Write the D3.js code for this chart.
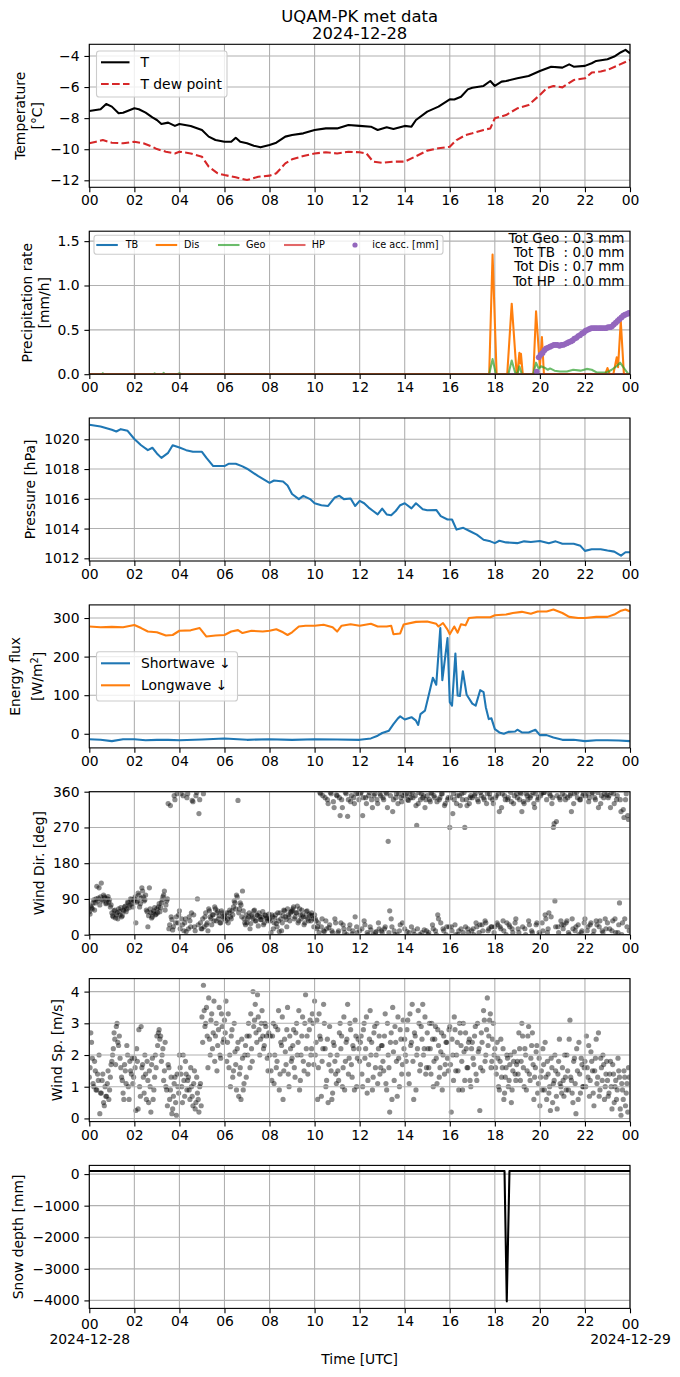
<!DOCTYPE html>
<html>
<head>
<meta charset="utf-8">
<script src="https://cdn.jsdelivr.net/npm/d3@7"></script>
<style>
  body { margin: 0; background: #fff; }
  svg { font-family: "DejaVu Sans", sans-serif; }
  .grid line { stroke: #b0b0b0; stroke-width: 1.1; }
</style>
</head>
<body>
<svg id="chart" width="680" height="1377"></svg>
<script>
// temperature [°C]
const tempHour = [0,0.5,0.75,1.0,1.3,1.5,2.0,2.2,2.5,2.8, 3.0,3.2,3.5,3.8,4.0,4.5,5.0,5.3,5.6,6.0,
  6.3,6.5,6.7,7.0,7.3,7.6,8.0,8.3,8.7,9.0, 9.5,10.0,10.5,11.0,11.5,12.0,12.5,12.8,13.2,13.5,
  14.0,14.3,14.5,15.0,15.5,16.0,16.2,16.5,16.8,17.0, 17.5,17.8,18.0,18.3,18.5,19.0,19.5,20.0,20.5,21.0,
  21.3,21.5,22.0,22.3,22.5,23.0,23.3,23.6,23.8,24.0];
const tempVal = [-7.54,-7.43,-7.09,-7.26,-7.69,-7.65,-7.37,-7.43,-7.65,-7.95, -8.12,-8.38,-8.29,-8.5,-8.38,-8.5,-8.76,-9.19,-9.41,-9.52,
  -9.52,-9.26,-9.52,-9.62,-9.77,-9.88,-9.73,-9.58,-9.19,-9.09, -8.98,-8.76,-8.66,-8.66,-8.44,-8.5,-8.55,-8.76,-8.59,-8.7,
  -8.5,-8.55,-8.12,-7.58,-7.26,-6.79,-6.8,-6.62,-6.15,-6.04, -5.93,-5.61,-5.93,-5.65,-5.61,-5.44,-5.29,-4.97,-4.69,-4.75,
  -4.54,-4.69,-4.64,-4.47,-4.32,-4.21,-4.04,-3.76,-3.61,-3.83];
const dewHour = [0,0.3,0.6,1.0,1.5,2.0,2.4,2.8,3.0,3.4, 3.8,4.0,4.5,5.0,5.3,5.7,6.0,6.5,7.0,7.5,
  8.0,8.3,8.7,9.0,9.5,10.0,10.5,11.0,11.5,12.0, 12.3,12.6,13.0,13.5,14.0,14.3,14.7,15.0,15.5,16.0,
  16.3,16.7,17.0,17.5,17.8,18.0,18.5,19.0,19.5,20.0, 20.3,20.6,21.0,21.5,22.0,22.3,22.7,23.0,23.5,24.0];
const dewVal = [-9.62,-9.52,-9.41,-9.58,-9.62,-9.52,-9.62,-9.84,-9.99,-10.16, -10.27,-10.16,-10.27,-10.48,-11.12,-11.55,-11.66,-11.81,-11.98,-11.77,
  -11.70,-11.55,-10.91,-10.65,-10.44,-10.27,-10.2,-10.27,-10.16,-10.2, -10.27,-10.8,-10.87,-10.8,-10.8,-10.59,-10.31,-10.09,-9.94,-9.84,
  -9.41,-9.09,-8.98,-8.76,-8.66,-8.01,-7.80,-7.37,-7.15,-6.51, -6.08,-5.93,-6.02,-5.55,-5.44,-5.07,-5.0,-4.9,-4.58,-4.26];

// precipitation rate [mm/h]
const tbHour = [0, 24];
const tbVal = [0, 0];
const disHour = [0,17.75,17.9,18.08,18.55,18.75,18.97,19.0,19.09,19.12, 19.16,19.24,19.71,19.83,20.0,20.09,20.18,22.9,23.0,23.1,
  23.26,23.41,23.47,23.59,23.73,24];
const disVal = [0,0,1.35,0,0,0.795,0,0,0.24,0.12, 0.23,0,0,0.71,0.08,0.42,0,0,0.07,0,
  0,0.19,0.08,0.6,0,0];
const geoHour = [0,0.55,0.6,0.65,2.85,2.9,2.95,3.25,3.3,3.35, 3.9,4.0,4.1,17.75,17.9,18.05,18.6,18.75,18.9,19.0,
  19.09,19.2,19.7,19.83,19.95,20.05,20.23,20.35,20.45,20.65, 20.89,21.2,21.48,21.8,22.08,22.3,22.52,22.97,23.19,23.4,
  23.56,23.73,23.93,24];
const geoVal = [0,0,0.012,0,0,0.01,0,0,0.015,0, 0,0.01,0,0,0.17,0,0,0.155,0.02,0,
  0.09,0,0,0.13,0.06,0.09,0.07,0.05,0.065,0.04, 0.03,0.03,0.05,0.04,0.06,0.05,0.02,0.02,0.05,0.09,
  0.13,0.07,0,0];
const hpHour = [0, 24];
const hpVal = [0, 0];
const iceHour = [19.86, 19.95,20.03,20.12,20.2,20.28,20.37,20.45,20.53,20.62,20.7,
  20.78,20.87,20.95,21.03,21.12,21.2,21.28,21.37,21.45,21.53, 21.62,21.7,21.78,21.87,21.95,22.03,22.12,22.2,22.28,22.37,
  22.45,22.53,22.62,22.7,22.78,22.87,22.95,23.03,23.12,23.2, 23.28,23.37,23.45,23.53,23.62,23.7,23.78,23.87,23.95];
const iceVal = [0.03, 0.19,0.22,0.24,0.27,0.29,0.30,0.31,0.32,0.33,0.33,
  0.33,0.32,0.33,0.33,0.34,0.35,0.36,0.37,0.38,0.40, 0.41,0.43,0.44,0.46,0.47,0.49,0.50,0.51,0.52,0.52,
  0.52,0.52,0.52,0.52,0.52,0.52,0.52,0.53,0.53,0.54, 0.56,0.58,0.60,0.62,0.64,0.66,0.67,0.68,0.69];
const precipTotals = ["Tot Geo : 0.3 mm", "Tot TB  : 0.0 mm", "Tot Dis : 0.7 mm", "Tot HP  : 0.0 mm"];

// pressure [hPa]
const presHour = [0,0.5,1.0,1.2,1.4,1.7,2.0,2.3,2.6,2.8, 3.0,3.2,3.5,3.7,4.0,4.3,4.6,5.0,5.2,5.5,
  6.0,6.2,6.5,6.8,7.0,7.5,8.0,8.2,8.6,8.8, 9.0,9.3,9.5,9.8,10.0,10.3,10.6,10.9,11.1,11.3,
  11.6,11.8,12.0,12.2,12.4,12.6,12.8,13.0,13.2,13.4, 13.6,13.8,14.0,14.3,14.5,14.8,15.0,15.4,15.6,15.9,
  16.1,16.3,16.6,16.9,17.2,17.5,17.8,18.0,18.2,18.5, 19.0,19.3,19.6,20.0,20.4,20.7,21.0,21.5,21.8,22.0,
  22.3,22.7,23.0,23.3,23.6,23.8,24.0];
const presVal = [1020.98,1020.86,1020.64,1020.52,1020.68,1020.57,1020.02,1019.6,1019.27,1019.43,
  1019.05,1018.75,1019.09,1019.6,1019.45,1019.27,1019.16,1019.16,1018.75,1018.2,
  1018.2,1018.36,1018.36,1018.18,1018.02,1017.52,1017.07,1017.23,1017.16,1016.89,
  1016.32,1015.98,1016.2,1015.98,1015.70,1015.57,1015.52,1016.09,1016.2,1015.98,
  1016.02,1015.52,1015.86,1015.7,1015.41,1015.18,1014.95,1015.34,1014.95,1014.89,
  1015.18,1015.57,1015.70,1015.36,1015.70,1015.3,1015.23,1015.25,1014.84,1014.61,
  1014.61,1013.93,1014.05,1013.82,1013.59,1013.25,1013.14,1013.02,1013.18,1013.07,
  1013.02,1013.14,1013.1,1013.16,1013.02,1013.14,1012.98,1012.98,1012.84,1012.5,
  1012.61,1012.61,1012.52,1012.45,1012.18,1012.41,1012.41];

// radiation [W/m2]
const swHour = [0,0.5,1.0,1.5,2.0,2.5,3.0,3.5,4.0,5.0, 6.0,7.0,8.0,9.0,10.0,11.0,12.0,12.5,12.8,13.0,
  13.3,13.5,13.7,13.8,14.0,14.3,14.5,14.6,14.7,14.9, 15.1,15.25,15.4,15.58,15.67,15.9,16.0,16.1,16.25,16.35,
  16.45,16.58,16.75,17.0,17.15,17.35,17.5,17.6,17.73,17.85, 18.0,18.2,18.4,18.6,18.9,19.0,19.2,19.5,19.8,20.0,
  20.3,20.6,21.0,21.5,22.0,22.5,23.0,23.5,24.0];
const swVal = [-14,-15.7,-19,-14,-14,-16.6,-15.7,-15.7,-16.6,-14.8, -12.2,-15.7,-14,-15.7,-14,-14.8,-15.7,-12,-5,2,
  8,25,40,45,37,43,34,23,51,60, 108,145,127,274,139,248,82,73,208,99,
  98,162,101,78,73,113,108,69,38,40, 12,3.5,0,5,6,10.5,3.5,3.5,10.5,-3.5,
  -3.5,-9.6,-15.7,-15.7,-19,-16.6,-16.6,-17.5,-19];
const lwHour = [0,0.5,1.0,1.5,2.0,2.3,2.6,3.0,3.4,3.7, 4.0,4.5,4.9,5.2,5.6,6.0,6.3,6.6,6.8,7.2,
  7.7,8.0,8.3,8.6,8.8,9.0,9.3,9.6,10.0,10.4, 10.8,11.0,11.2,11.6,12.0,12.5,12.8,13.2,13.4,13.5,
  13.8,13.95,14.5,15.0,15.4,15.5,15.7,15.9,16.0,16.2, 16.35,16.5,16.7,16.85,17.2,17.8,18.0,18.5,18.8,19.2,
  19.6,19.9,20.3,20.6,21.0,21.3,21.7,22.0,22.5,23.0, 23.3,23.6,23.8,24.0];
const lwVal = [278,276,277,276,282,274,265,263,254.5,256, 267,268,274,252,254.5,256,265,268.6,261,267,
  265,267,271,263,256,263,278,280,280,282.6, 276,265,280,284,280,285,278,278,280,258,
  260,283,290,291,285,278,287,270,258,278, 262,284,281,300,302,302,307,309,313,316,
  311,317,317,322,313,303,300,300,303,303, 309,319,322,317];

// wind: two interleaved samplings, each one value every 4 minutes (A on the even minute, B two minutes later)
const windDirA = [
  58,72,65,88,80,122,92,75,130,85,95,78,90,82,70,
  55,45,62,50,40,58,68,48,60,72,65,80,75,88,70,
  90,30,85,100,78,118,95,88,62,20,118,55,45,60,50,
  65,70,58,80,95,110,75,90,15,325,38,20,340,45,30,
  60,355,25,10,40,345,15,35,55,335,20,350,90,305,30,
  15,355,45,25,10,60,40,50,35,65,55,40,30,60,45,
  50,35,40,55,45,60,70,80,100,338,65,75,110,40,25,
  30,45,15,50,40,62,35,48,55,38,45,25,50,42,35,
  40,5,45,30,50,20,35,55,10,48,60,38,65,45,55,
  60,70,45,55,30,65,40,50,25,45,60,35,48,55,40,
  50,35,20,5,355,40,10,345,15,330,25,355,5,320,30,
  350,10,300,340,25,5,355,298,15,335,2,345,45,20,355,
  10,358,300,35,345,5,350,20,340,0,355,8,330,15,350,
  5,340,20,355,235,60,40,310,10,345,0,355,25,335,350,
  15,355,340,5,345,358,10,350,275,330,0,355,345,12,340,
  350,5,335,355,15,345,0,50,340,30,355,10,330,20,345,
  270,20,305,340,0,350,10,325,355,5,270,340,15,330,350,
  345,0,355,20,335,25,350,10,340,30,355,15,345,20,330,
  20,350,25,310,15,355,10,340,30,345,20,335,5,350,40,
  345,5,358,310,335,15,355,340,25,350,5,330,355,30,345,
  0,355,10,358,40,5,55,350,330,270,85,285,20,345,35,
  355,25,340,35,5,350,310,15,355,20,345,0,340,10,355,
  40,355,20,345,30,358,10,340,25,320,35,350,5,355,15,
  30,350,320,10,355,40,340,5,80,310,30,295,340,20,290];
const windDirB = [
  52,68,80,62,90,85,118,95,88,100,92,80,96,88,75,
  48,60,42,55,65,50,45,62,70,58,82,68,90,78,85,
  95,82,105,70,92,110,85,100,58,48,65,42,55,68,52,
  55,78,68,88,100,62,85,330,25,45,12,350,30,355,50,
  15,40,350,30,8,355,45,20,338,50,10,358,25,340,15,
  40,20,55,30,65,45,25,50,70,35,60,48,30,55,40,
  45,55,30,62,40,50,85,65,95,55,80,45,60,30,50,
  40,55,28,45,60,35,50,22,45,38,58,30,48,40,52,
  35,50,15,42,28,55,8,40,30,62,45,20,50,35,58,
  65,40,55,72,35,50,62,45,30,58,40,52,35,48,20,
  40,15,30,358,20,350,8,35,340,18,358,10,335,40,352,
  5,345,30,320,15,358,0,340,25,350,10,330,355,5,340,
  355,15,345,25,330,0,358,12,320,350,5,340,30,355,10,
  345,15,358,320,5,350,20,340,0,355,330,10,345,30,358,
  350,8,338,355,20,345,0,325,15,358,340,5,350,320,10,
  0,340,358,25,350,10,335,40,345,355,15,325,0,340,20,
  345,10,355,25,330,0,350,15,340,358,20,325,5,345,10,
  15,350,30,340,5,358,25,345,35,330,10,355,20,340,5,
  345,30,355,20,320,35,350,0,340,25,358,15,330,30,355,
  15,340,355,20,330,0,350,35,345,10,358,320,25,340,5,
  350,30,358,50,340,15,355,45,345,280,20,350,5,340,25,
  15,350,30,345,0,355,40,330,10,358,25,340,5,350,30,
  350,10,335,25,355,0,345,35,358,20,330,10,345,40,352,
  345,15,358,35,330,5,350,25,340,0,315,40,355,300,10];
const windSpdA = [
  1.3,2.7,1.9,1.0,1.5,0.9,1.2,0.15,0.8,1.4,0.4,0.7,1.1,0.6,1.3,
  1.8,2.2,2.5,2.9,2.4,2.6,1.6,1.2,0.6,1.5,2.3,1.0,1.8,1.4,1.1,
  1.9,0.25,1.8,2.8,0.7,1.6,1.3,2.0,0.6,1.2,1.5,0.2,1.9,0.9,2.0,
  2.6,2.7,2.5,1.8,2.2,1.5,1.0,0.4,1.6,0.9,0.15,0.7,1.3,0.1,1.0,
  2.0,1.4,0.5,1.2,1.8,0.9,1.3,0.6,1.0,0.4,1.5,0.5,0.8,0.2,1.1,
  3.2,4.2,2.9,3.5,1.6,2.5,3.1,2.2,3.7,2.6,1.5,2.8,2.0,3.3,2.4,
  3.1,3.7,2.4,1.6,1.0,2.8,1.5,2.1,0.9,2.4,1.4,0.6,1.9,1.1,2.3,
  2.6,3.0,1.6,2.2,4.0,3.1,2.7,3.9,2.8,2.5,3.4,2.2,3.0,2.6,1.5,
  2.0,1.5,2.6,1.1,2.9,1.8,3.4,1.4,2.3,0.6,2.5,1.7,3.5,1.0,2.2,
  1.9,2.8,1.3,3.0,2.4,0.9,2.0,3.2,1.5,3.9,2.6,1.7,3.1,2.2,3.0,
  3.7,2.4,0.6,3.3,2.5,1.8,3.6,2.2,1.2,0.5,2.9,1.5,0.8,2.3,1.4,
  2.0,1.2,3.0,2.6,1.6,0.9,2.4,3.6,1.9,2.8,1.3,2.2,3.1,1.0,2.5,
  1.8,2.6,1.0,3.0,2.2,0.8,1.7,3.4,2.4,1.3,2.9,2.0,1.1,2.6,1.6,
  2.3,1.5,3.3,0.9,2.0,0.2,2.7,3.5,1.2,2.4,0.7,1.9,2.8,1.4,3.1,
  2.5,1.8,3.1,1.1,2.3,3.6,0.6,2.6,2.0,3.4,1.5,2.9,3.6,2.2,1.4,
  2.7,1.6,2.2,3.0,1.0,2.5,1.9,2.8,1.3,2.1,0.9,2.6,1.7,2.4,1.5,
  2.9,0.2,2.0,3.2,1.5,2.4,0.9,2.7,1.8,3.0,1.2,2.2,1.6,2.5,1.0,
  2.4,1.7,2.9,1.2,2.1,0.25,2.7,1.5,3.1,2.0,3.8,2.6,3.3,1.8,3.0,
  2.2,1.4,1.9,0.9,2.5,1.6,0.6,1.3,2.0,1.0,1.7,0.5,1.5,2.1,1.2,
  1.8,2.7,1.2,3.0,1.6,2.2,0.9,2.6,1.4,1.9,2.7,0.6,1.6,2.3,1.1,
  0.4,1.5,2.2,0.9,1.3,1.8,0.8,0.25,1.6,1.1,2.0,0.7,1.4,2.5,1.0,
  1.6,0.7,1.3,2.0,0.9,3.1,1.2,0.5,1.9,0.15,1.5,2.4,0.8,1.7,1.0,
  1.8,2.6,1.3,0.7,2.1,1.5,0.4,1.9,1.1,2.7,0.9,1.6,2.0,0.6,1.4,
  1.2,0.8,1.8,0.3,1.4,1.0,0.6,1.9,1.3,0.1,0.9,1.5,0.4,1.1,1.6];
const windSpdB = [
  1.6,2.4,1.1,1.8,0.9,1.4,2.0,0.8,1.2,0.5,1.0,0.7,1.5,0.9,1.7,
  2.0,2.7,1.7,3.0,2.3,1.9,1.3,0.8,1.7,1.1,2.0,0.6,1.5,1.9,1.3,
  1.6,2.2,0.3,1.0,2.9,1.7,0.8,1.4,1.8,0.5,1.0,1.7,0.6,1.3,1.6,
  2.3,2.8,2.6,2.0,1.2,2.4,0.9,1.7,0.6,1.3,0.3,1.1,0.5,1.4,0.8,
  1.6,1.0,2.0,0.7,1.4,1.2,0.9,1.6,0.7,1.1,0.3,1.3,0.6,1.0,0.4,
  2.4,3.4,3.0,2.6,3.8,2.0,3.3,2.7,1.8,3.0,2.3,3.5,1.9,2.9,2.5,
  2.7,1.8,3.3,2.0,2.6,1.3,3.0,1.7,2.2,0.7,1.6,2.5,0.9,2.0,1.3,
  2.0,2.6,3.3,1.8,2.9,3.6,2.4,3.2,2.0,3.0,2.6,2.3,2.9,1.9,2.7,
  2.6,1.2,3.0,2.0,1.6,2.8,0.9,2.4,3.2,1.5,2.1,2.8,1.4,2.6,1.8,
  2.3,1.6,2.7,2.0,3.4,1.2,2.6,1.8,3.0,2.2,1.4,2.8,2.0,3.3,1.7,
  2.0,3.1,1.6,2.6,0.7,2.2,3.0,1.0,2.5,1.7,2.0,0.6,2.4,1.8,1.1,
  1.5,2.7,2.2,1.0,3.2,1.8,2.5,1.4,3.0,1.7,2.3,0.9,2.6,1.9,2.2,
  2.4,1.4,2.8,1.9,3.2,1.2,2.5,2.0,0.9,2.7,1.6,3.0,2.2,1.4,2.3,
  1.8,2.6,1.1,3.0,1.6,2.4,0.6,2.1,2.9,1.8,3.2,1.0,2.5,1.7,2.2,
  2.0,2.8,1.4,3.3,2.4,1.8,2.7,0.9,2.2,3.0,1.7,2.5,2.0,3.2,1.6,
  2.2,3.0,1.4,2.5,1.8,2.9,1.1,2.3,1.6,2.7,2.0,1.4,2.4,1.9,2.8,
  1.7,2.5,1.2,2.8,2.0,1.5,3.0,2.3,0.9,2.1,2.7,1.6,2.4,1.2,2.2,
  1.9,2.6,1.4,3.0,2.2,1.6,2.4,3.4,1.8,2.8,2.3,3.1,1.6,2.5,2.0,
  1.6,2.4,1.0,1.8,1.3,2.2,0.8,1.6,1.9,1.2,2.0,0.9,1.8,1.4,1.7,
  1.4,2.2,1.8,2.6,1.0,2.0,1.5,2.9,1.2,2.3,1.7,1.3,2.1,0.8,1.9,
  1.3,0.9,1.7,2.4,0.6,1.4,1.0,1.9,0.5,1.2,1.5,0.3,1.8,1.1,0.8,
  1.2,2.0,0.9,1.5,2.5,1.3,0.8,1.8,1.1,2.2,0.6,1.4,1.9,1.0,1.6,
  1.0,1.6,2.3,1.2,1.8,0.8,1.5,2.5,1.3,0.7,1.9,1.2,1.7,1.0,1.8,
  0.7,1.4,1.0,1.7,0.5,1.2,0.9,1.5,0.3,1.1,0.6,1.3,0.8,0.2,1.3];

// snow depth [mm]
const snowHour = [0, 18.43, 18.53, 18.65, 24];
const snowVal = [100, 100, -4030, 100, 100];

// tick labels
const hourTicks = d3.range(0, 25, 2);
const dateLabels = ["2024-12-28", "2024-12-29"];

// chart dimensions
const left = 89.3;
const width = 540.7;
const height = 143;
const tops = [44.3, 231.2, 418.0, 604.9, 791.7, 978.6, 1165.4];
const fs = 13.9;

const svg = d3.select("#chart");
const x = d3.scaleLinear().domain([0, 24]).range([0, width]);

function panel(i, domain, ticks, fmt) {
  const g = svg.append("g").attr("transform", `translate(${left},${tops[i]})`);
  const y = d3.scaleLinear().domain(domain).range([height, 0]);

  g.append("clipPath").attr("id", "clip" + i)
    .append("rect").attr("width", width).attr("height", height);

  // layers: scatter sits below the grid like matplotlib
  const below = g.append("g").attr("clip-path", `url(#clip${i})`);
  const grid = g.append("g").attr("class", "grid");
  grid.selectAll(".gx").data(hourTicks).join("line").attr("class", "gx")
    .attr("x1", d => x(d)).attr("x2", d => x(d)).attr("y1", 0).attr("y2", height);
  grid.selectAll(".gy").data(ticks).join("line").attr("class", "gy")
    .attr("x1", 0).attr("x2", width).attr("y1", d => y(d)).attr("y2", d => y(d));
  const plot = g.append("g").attr("clip-path", `url(#clip${i})`);

  g.append("rect")
    .attr("width", width).attr("height", height)
    .attr("fill", "none").attr("stroke", "#000").attr("stroke-width", 1.1);

  const xAxis = d3.axisBottom(x)
    .tickValues(hourTicks)
    .tickFormat(d => d3.format("02d")(d % 24))
    .tickSize(4.9).tickSizeOuter(0).tickPadding(3.3);
  const yAxis = d3.axisLeft(y)
    .tickValues(ticks)
    .tickFormat(fmt)
    .tickSize(4.9).tickSizeOuter(0).tickPadding(4.9);
  const gx = g.append("g").attr("transform", `translate(0,${height})`).call(xAxis);
  const gy = g.append("g").call(yAxis);
  [gx, gy].forEach(a => {
    a.attr("font-family", null).attr("font-size", null);
    a.select(".domain").remove();
    a.selectAll(".tick line").attr("stroke", "#000").attr("stroke-width", 1.1);
    a.selectAll(".tick text").attr("fill", "#000").style("font-size", fs + "px");
  });

  return {g, y, plot, below, gx};
}

function ylabel(i, lines) {
  lines.forEach(l => {
    const t = svg.append("text")
      .attr("transform", `translate(${l.x},${tops[i] + height / 2}) rotate(-90)`)
      .attr("text-anchor", "middle")
      .attr("dy", "0.36em")
      .style("font-size", fs + "px");
    if (l.sup) {
      t.append("tspan").text(l.text);
      t.append("tspan").attr("dy", "-0.45em").style("font-size", "9.7px").text(l.sup);
      t.append("tspan").attr("dy", "0.45em").text(l.after);
    } else {
      t.text(l.text);
    }
  });
}

function line(p, hours, vals, color, width, dash, opacity) {
  const gen = d3.line().x(d => x(d[0])).y(d => p.y(d[1]));
  p.plot.append("path")
    .datum(d3.zip(hours, vals))
    .attr("d", gen)
    .attr("fill", "none")
    .attr("stroke", color)
    .attr("stroke-width", width)
    .attr("stroke-dasharray", dash || null)
    .attr("stroke-opacity", opacity || 1)
    .attr("stroke-linejoin", "round");
}

function scatter(p, valsA, valsB) {
  const pts = d3.merge([
    valsA.map((v, k) => [k * 4 / 60, v]),
    valsB.map((v, k) => [k * 4 / 60 + 2 / 60, v])
  ]);
  p.below.selectAll("circle").data(pts).join("circle")
    .attr("cx", d => x(d[0])).attr("cy", d => p.y(d[1])).attr("r", 2.6)
    .attr("fill", "#000").attr("fill-opacity", 0.45);
}

function legendBox(x0, y0, w, h) {
  svg.append("rect")
    .attr("x", x0).attr("y", y0).attr("width", w).attr("height", h)
    .attr("rx", 2.8)
    .attr("fill", "#fff").attr("fill-opacity", 0.8)
    .attr("stroke", "#cccccc").attr("stroke-width", 1.1);
}

// title
svg.append("text").attr("x", left + width / 2).attr("y", 22.3)
  .attr("text-anchor", "middle").style("font-size", "16.4px").text("UQAM-PK met data");
svg.append("text").attr("x", left + width / 2).attr("y", 39)
  .attr("text-anchor", "middle").style("font-size", "16.4px").text("2024-12-28");

// panel 1: temperature
const p1 = panel(0, [-12.45, -3.25], [-12, -10, -8, -6, -4], d3.format("d"));
line(p1, tempHour, tempVal, "#000", 2.08);
line(p1, dewHour, dewVal, "#d62728", 2.08, "7.7,3.3");
ylabel(0, [{text: "Temperature", x: 19.8}, {text: "[°C]", x: 36.5}]);
legendBox(96.5, 51, 130.5, 46);
[{y: 62.3, c: "#000", d: null, t: "T"}, {y: 84, c: "#d62728", d: "7.7,3.3", t: "T dew point"}]
  .forEach(e => {
    svg.append("line").attr("x1", 101).attr("x2", 129.5).attr("y1", e.y).attr("y2", e.y)
      .attr("stroke", e.c).attr("stroke-width", 2.08).attr("stroke-dasharray", e.d);
    svg.append("text").attr("x", 140.4).attr("y", e.y + 5).style("font-size", fs + "px").text(e.t);
  });

// panel 2: precipitation
const p2 = panel(1, [0, 1.612], [0, 0.5, 1.0, 1.5], d3.format(".1f"));
line(p2, tbHour, tbVal, "#1f77b4", 2.08);
line(p2, disHour, disVal, "#ff7f0e", 2.08);
line(p2, geoHour, geoVal, "#2ca02c", 2.08, null, 0.7);
line(p2, hpHour, hpVal, "#d62728", 2.08, null, 0.7);
p2.plot.selectAll("circle").data(d3.zip(iceHour, iceVal)).join("circle")
  .attr("cx", d => x(d[0])).attr("cy", d => p2.y(d[1])).attr("r", 2.9)
  .attr("fill", "#9467bd");
ylabel(1, [{text: "Precipitation rate", x: 27.3}, {text: "[mm/h]", x: 43.8}]);
precipTotals.forEach((t, k) => {
  svg.append("text").attr("x", 624.5).attr("y", 243.2 + k * 14.13)
    .attr("text-anchor", "end").attr("xml:space", "preserve")
    .style("white-space", "pre").style("font-size", "13.5px").text(t);
});
legendBox(94, 235.3, 349, 19);
[{x: 96.3, c: "#1f77b4", o: 1, t: "TB", tx: 125.7},
 {x: 155.7, c: "#ff7f0e", o: 1, t: "Dis", tx: 184},
 {x: 218, c: "#2ca02c", o: 0.7, t: "Geo", tx: 246},
 {x: 284, c: "#d62728", o: 0.7, t: "HP", tx: 311.7}].forEach(e => {
  svg.append("line").attr("x1", e.x).attr("x2", e.x + 21.5).attr("y1", 245).attr("y2", 245)
    .attr("stroke", e.c).attr("stroke-opacity", e.o).attr("stroke-width", 2.08);
  svg.append("text").attr("x", e.tx).attr("y", 248.4).style("font-size", "9.7px").text(e.t);
});
svg.append("circle").attr("cx", 355).attr("cy", 245).attr("r", 2.6).attr("fill", "#9467bd");
svg.append("text").attr("x", 372.3).attr("y", 248.4).style("font-size", "9.7px").text("ice acc. [mm]");

// panel 3: pressure
const p3 = panel(2, [1011.82, 1021.43], [1012, 1014, 1016, 1018, 1020], d3.format("d"));
line(p3, presHour, presVal, "#1f77b4", 2.08);
ylabel(2, [{text: "Pressure [hPa]", x: 29.5}]);

// panel 4: radiation
const p4 = panel(3, [-36.6, 334], [0, 100, 200, 300], d3.format("d"));
line(p4, swHour, swVal, "#1f77b4", 2.08);
line(p4, lwHour, lwVal, "#ff7f0e", 2.08);
ylabel(3, [{text: "Energy flux", x: 15.2}, {text: "[W/m", sup: "2", after: "]", x: 37}]);
legendBox(96.5, 651.7, 141, 49.3);
[{y: 663.3, c: "#1f77b4", t: "Shortwave \u2193"}, {y: 685.3, c: "#ff7f0e", t: "Longwave \u2193"}]
  .forEach(e => {
    svg.append("line").attr("x1", 101).attr("x2", 130).attr("y1", e.y).attr("y2", e.y)
      .attr("stroke", e.c).attr("stroke-width", 2.08);
    svg.append("text").attr("x", 141).attr("y", e.y + 5).style("font-size", fs + "px").text(e.t);
  });

// panel 5: wind direction
const p5 = panel(4, [0, 360], [0, 90, 180, 270, 360], d3.format("d"));
scatter(p5, windDirA, windDirB);
ylabel(4, [{text: "Wind Dir. [deg]", x: 38.5}]);

// panel 6: wind speed
const p6 = panel(5, [-0.1, 4.41], [0, 1, 2, 3, 4], d3.format("d"));
scatter(p6, windSpdA, windSpdB);
ylabel(5, [{text: "Wind Sp. [m/s]", x: 57}]);

// panel 7: snow depth
const p7 = panel(6, [-4253, 275], [-4000, -3000, -2000, -1000, 0], d3.format("d"));
line(p7, snowHour, snowVal, "#000", 2.08);
ylabel(6, [{text: "Snow depth [mm]", x: 18}]);

// date labels under first and last tick
p7.gx.selectAll(".tick").filter(d => d === 0 || d === 24).each(function(d) {
  const tick = d3.select(this);
  tick.select("text").attr("y", 10.5);
  tick.append("text")
    .attr("y", 35.6).attr("fill", "#000").attr("text-anchor", "middle")
    .style("font-size", fs + "px")
    .text(d === 0 ? dateLabels[0] : dateLabels[1]);
});
svg.append("text").attr("x", left + width / 2).attr("y", 1363.5)
  .attr("text-anchor", "middle").style("font-size", fs + "px").text("Time [UTC]");
</script>
</body>
</html>
